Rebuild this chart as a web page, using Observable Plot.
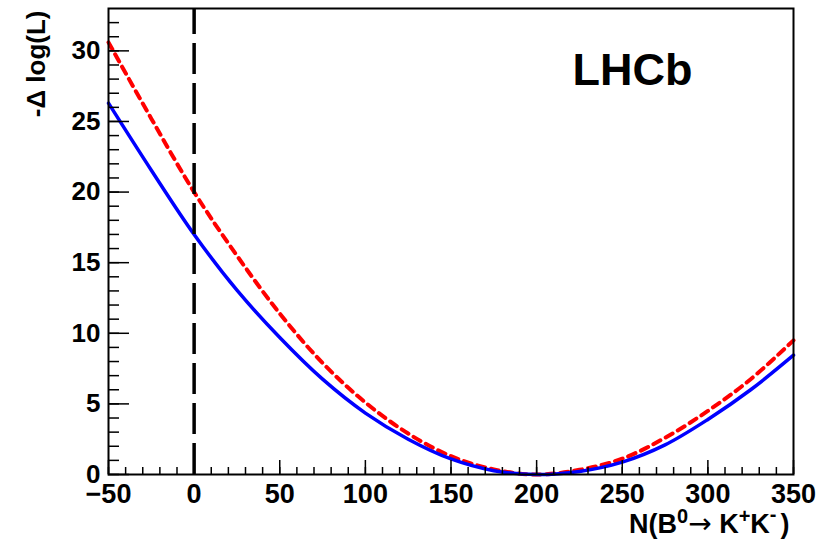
<!DOCTYPE html>
<html><head><meta charset="utf-8">
<script src="https://cdn.jsdelivr.net/npm/d3@7"></script>
<script src="https://cdn.jsdelivr.net/npm/@observablehq/plot@0.6"></script>
<style>
body{margin:0;background:#fff}
</style>
</head><body><div id="chart"></div>
<script>
// Signal yield scan points N(B0 -> K+K-)
const yields   = [-50, -25, 0, 25, 50, 75, 100, 125, 150, 175, 200, 225, 250, 275, 300, 325, 350];
// -Δlog(L) (solid blue)
const nllStat  = [26.3, 21.55, 17.0, 13.05, 9.7, 6.75, 4.35, 2.5, 1.1, 0.27, 0.0, 0.22, 0.88, 2.1, 3.9, 6.0, 8.45];
// -Δlog(L) (dashed red)
const nllAlt   = [30.6, 25.2, 20.0, 15.5, 11.4, 7.9, 5.1, 2.9, 1.3, 0.36, 0.0, 0.33, 1.12, 2.6, 4.5, 6.75, 9.5];
// reference line
const refYield = [0];
// axis ticks
const xTicks = [-50, 0, 50, 100, 150, 200, 250, 300, 350];
const yTicks = [0, 5, 10, 15, 20, 25, 30];
const xMinor = d3.range(-50, 351, 10);
const yMinor = d3.range(0, 33, 1);
const xDomain = [-50, 350];
const yDomain = [0, 33];
const lhcbLabel = ["LHCb"];
const yTitle = ["-\u0394 log(L)"];
// x-axis title pieces: text and role
const xTitleParts = [["N(B", "base"], ["0", "sup"], ["\u2192", "arrow"], [" K", "base"], ["+", "sup"], ["K", "base"], ["-", "supHigh"], [")", "base"]];

const W = 826, H = 539;
const mL = 108, mR = 33, mT = 8, mB = 65;
const iW = W - mL - mR, iH = H - mT - mB;

const table = yields.map((n, i) => ({n, stat: nllStat[i], alt: nllAlt[i]}));

const chart = Plot.plot({
  width: W, height: H,
  marginLeft: mL, marginRight: mR, marginTop: mT, marginBottom: mB,
  style: {fontFamily: "'Liberation Sans', Arial, Helvetica, sans-serif", fontWeight: "bold", fontSize: "26px", color: "black", background: "white"},
  x: {domain: xDomain},
  y: {domain: yDomain},
  marks: [
    Plot.line(table, {x: "n", y: "alt", stroke: "#ff0000", strokeWidth: 4, strokeDasharray: "8,6", curve: "catmull-rom"}),
    Plot.line(table, {x: "n", y: "stat", stroke: "#0000ff", strokeWidth: 3.5, curve: "catmull-rom"}),
    Plot.ruleX(refYield, {x: d => d, y1: yDomain[0], y2: yDomain[1], stroke: "black", strokeWidth: 3.5, strokeDasharray: "31,9"}),
    Plot.frame({stroke: "black", strokeWidth: 2}),
    Plot.tickX(xMinor, {x: d => d, insetTop: iH - 7, stroke: "black", strokeWidth: 1.5}),
    Plot.tickX(xTicks, {x: d => d, insetTop: iH - 14, stroke: "black", strokeWidth: 1.5}),
    Plot.tickY(yMinor, {y: d => d, insetRight: iW - 11, stroke: "black", strokeWidth: 1.5}),
    Plot.tickY(yTicks, {y: d => d, insetRight: iW - 21, stroke: "black", strokeWidth: 1.5}),
    Plot.axisX({ticks: xTicks, tickSize: 0, tickPadding: 9, label: null, fontSize: 27}),
    Plot.axisY({ticks: yTicks, tickSize: 0, tickPadding: 8, label: null, fontSize: 26}),
    Plot.text(lhcbLabel, {frameAnchor: "top-right", dx: -101, dy: 45, textAnchor: "end", lineAnchor: "top", fontSize: 45}),
    Plot.text(yTitle, {frameAnchor: "top-left", rotate: -90, textAnchor: "end", dx: -82, dy: 2, fontSize: 26}),
    Plot.text(["XTITLE"], {frameAnchor: "bottom-right", textAnchor: "end", lineAnchor: "top", dx: -4, dy: 39, fontSize: 27})
  ]
});

document.getElementById("chart").appendChild(chart);

// Build the x-axis title with superscripts
const t = d3.select(chart).selectAll("text").filter(function() { return this.textContent === "XTITLE"; });
t.text(null);
let shift = 0;
xTitleParts.forEach(([s, role]) => {
  const ts = t.append("tspan").text(s);
  let target = 0;
  if (role === "sup") { target = -10; ts.attr("font-size", 20); }
  else if (role === "supHigh") { target = -12; ts.attr("font-size", 20); }
  else if (role === "arrow") { target = 0; ts.attr("font-size", 28).attr("font-family", "'DejaVu Sans', sans-serif").attr("font-weight", "normal"); }
  if (role === "base" && s === ")") ts.attr("dx", 4);
  if (target !== shift) { ts.attr("dy", target - shift); shift = target; }
});
</script>
</body></html>
